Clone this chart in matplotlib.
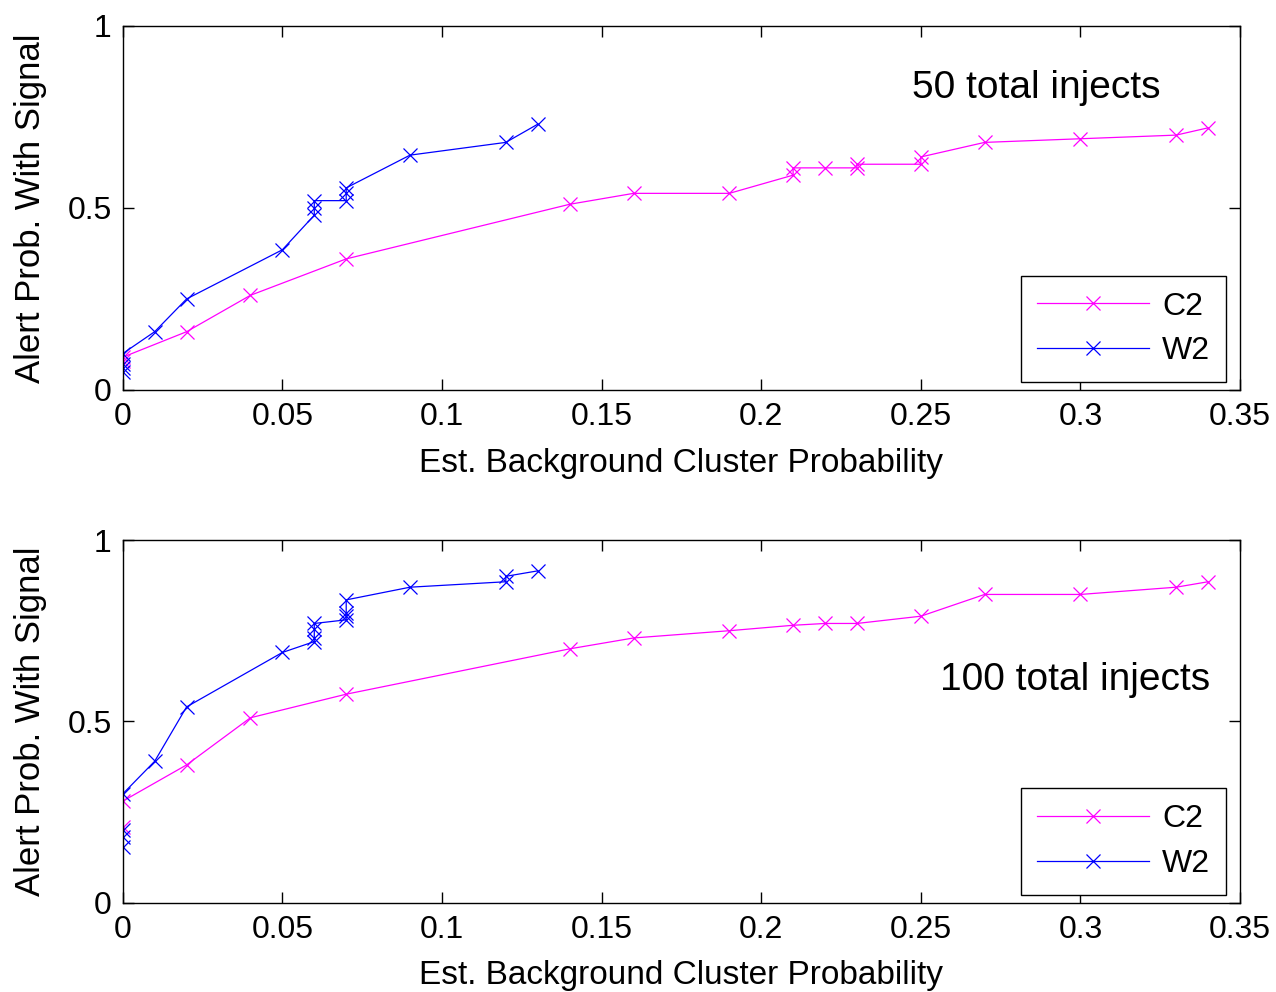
import numpy as np
import matplotlib
matplotlib.use("Agg")
import matplotlib.pyplot as plt

plt.rcParams['font.family'] = ['Liberation Sans', 'DejaVu Sans']

# 50 injects
c2_x_50 = [0, 0, 0.02, 0.04, 0.07, 0.14, 0.16, 0.19, 0.21, 0.21, 0.22, 0.23, 0.23, 0.25, 0.25, 0.27, 0.30, 0.33, 0.34]
c2_y_50 = [0.08, 0.09, 0.16, 0.26, 0.36, 0.51, 0.54, 0.54, 0.59, 0.61, 0.61, 0.61, 0.62, 0.62, 0.64, 0.68, 0.69, 0.70, 0.72]
w2_x_50 = [0, 0, 0, 0, 0.01, 0.02, 0.05, 0.06, 0.06, 0.06, 0.07, 0.07, 0.07, 0.09, 0.12, 0.13]
w2_y_50 = [0.05, 0.06, 0.07, 0.10, 0.16, 0.25, 0.385, 0.48, 0.50, 0.52, 0.52, 0.54, 0.555, 0.645, 0.68, 0.73]

# 100 injects
c2_x_100 = [0, 0, 0.02, 0.04, 0.07, 0.14, 0.16, 0.19, 0.21, 0.22, 0.23, 0.25, 0.27, 0.30, 0.33, 0.34]
c2_y_100 = [0.21, 0.28, 0.38, 0.51, 0.575, 0.70, 0.73, 0.75, 0.765, 0.77, 0.77, 0.79, 0.85, 0.85, 0.87, 0.885]
w2_x_100 = [0, 0, 0, 0, 0.01, 0.02, 0.05, 0.06, 0.06, 0.06, 0.06, 0.07, 0.07, 0.07, 0.07, 0.09, 0.12, 0.12, 0.13]
w2_y_100 = [0.155, 0.18, 0.20, 0.30, 0.39, 0.54, 0.69, 0.72, 0.73, 0.755, 0.77, 0.78, 0.79, 0.80, 0.835, 0.87, 0.885, 0.90, 0.915]

panels = [
    (c2_x_50, c2_y_50, w2_x_50, w2_y_50, "50 total injects", 0.2473, 0.83),
    (c2_x_100, c2_y_100, w2_x_100, w2_y_100, "100 total injects", 0.256, 0.614),
]

fig = plt.figure(figsize=(12.76, 9.92), dpi=100)
rects = [[0.0962, 0.6069, 0.8756, 0.367], [0.0962, 0.0900, 0.8756, 0.3656]]

for rect, (cx, cy, wx, wy, note, tx, ty) in zip(rects, panels):
    ax = fig.add_axes(rect)
    ax.plot(cx, cy, color='#ff00ff', marker='x', markersize=10, linewidth=0.9,
            markeredgewidth=0.9, label='C2')
    ax.plot(wx, wy, color='#0000ff', marker='x', markersize=10, linewidth=0.9,
            markeredgewidth=0.9, label='W2')
    ax.set_xlim(0, 0.35)
    ax.set_ylim(0, 1)
    ax.set_xticks([0, 0.05, 0.1, 0.15, 0.2, 0.25, 0.3, 0.35])
    ax.set_xticklabels(['0', '0.05', '0.1', '0.15', '0.2', '0.25', '0.3', '0.35'])
    ax.set_yticks([0, 0.5, 1])
    ax.set_yticklabels(['0', '0.5', '1'])
    ax.tick_params(direction='in', length=8, width=1, labelsize=23,
                   top=True, right=True)
    ax.tick_params(axis='x', pad=9)
    ax.tick_params(axis='y', pad=8)
    for s in ax.spines.values():
        s.set_linewidth(1)
    ax.set_xlabel("Est. Background Cluster Probability", fontsize=24, labelpad=11)
    ax.set_ylabel("Alert Prob. With Signal", fontsize=25, labelpad=15)
    ax.text(tx, ty, note, fontsize=28, ha='left', va='center')
    leg = ax.legend(loc='lower right', bbox_to_anchor=(0.9875, 0.022),
                    fontsize=23, fancybox=False, edgecolor='black',
                    framealpha=1, handlelength=3.5, handletextpad=0.4,
                    labelspacing=0.45, borderpad=0.5, borderaxespad=0)
    leg.get_frame().set_linewidth(1)

fig.savefig("out.png", dpi=100)
